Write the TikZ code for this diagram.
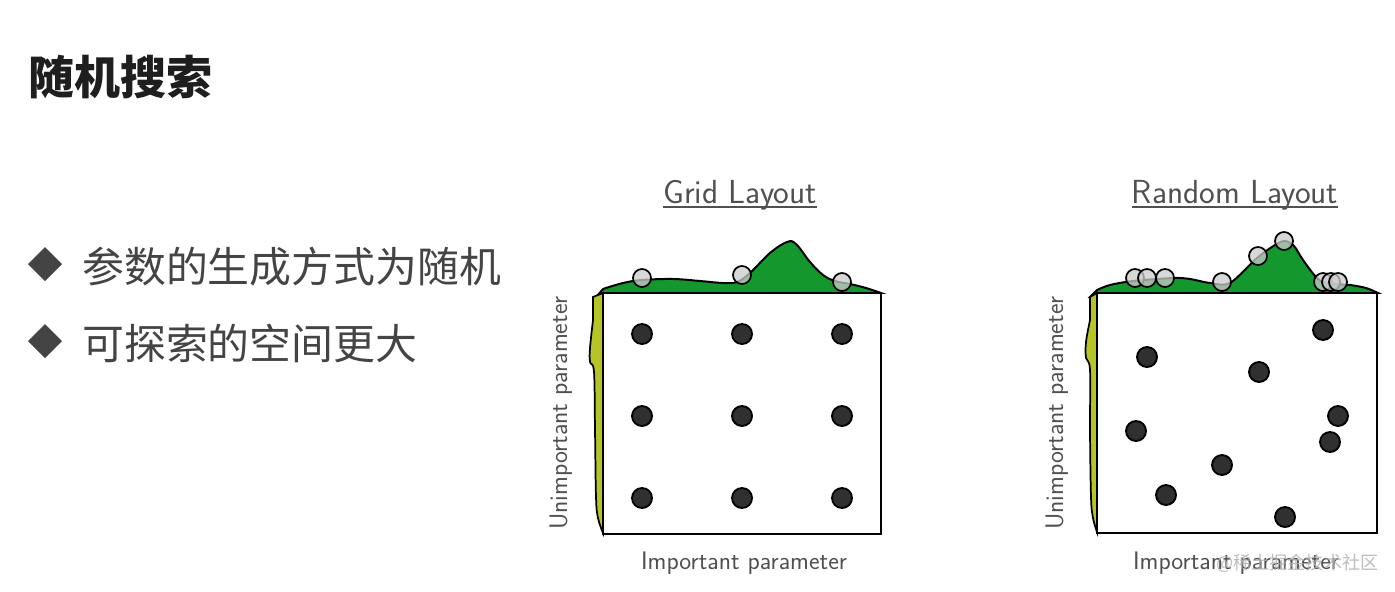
\documentclass[tikz,border=0pt]{standalone}
\usepackage{fontspec}
\usetikzlibrary{calc}
\newfontfamily\cjk{Noto Sans CJK SC}
\definecolor{grn}{RGB}{20,152,45}
\definecolor{ylw}{RGB}{182,196,40}
\definecolor{dotc}{RGB}{48,48,48}
\definecolor{lbl}{RGB}{80,80,80}
\definecolor{bul}{RGB}{68,68,68}
\definecolor{ttl}{RGB}{30,30,30}
\begin{document}
\begin{tikzpicture}[x=0.75pt,y=-0.75pt,
  dot/.style={circle,fill=dotc,draw=black,line width=1.4pt,minimum size=15pt,inner sep=0pt},
  probe/.style={circle,fill=gray!40,fill opacity=0.75,draw=black,line width=1.3pt,minimum size=13.5pt,inner sep=0pt},
  boxframe/.style={draw=black,fill=white,line width=1.9pt},
  hill/.style={fill=grn,draw=black,line width=1.5pt},
  strip/.style={fill=ylw,draw=black,line width=1.3pt},
  axlabel/.style={font=\sffamily\fontsize{19}{22}\selectfont,text=lbl,inner sep=0pt},
  plottitle/.style={font=\sffamily\fontsize{25}{28}\selectfont,text=lbl,inner sep=0pt},
  bullettext/.style={font=\cjk\fontsize{31.4}{36}\selectfont,text=bul,inner sep=0pt,anchor=west},
  diam/.style={fill=bul}
]
\useasboundingbox[fill=white] (0,0) rectangle (1395,592);

% title and bullets
\node[font=\cjk\bfseries\fontsize{34.5}{40}\selectfont,text=ttl,inner sep=0pt,anchor=west] (title) at (28,77) {随机搜索};
\fill[diam] (45,247) -- (62,264) -- (45,281) -- (28,264) -- cycle;
\node[bullettext] (b1) at (82,267) {参数的生成方式为随机};
\fill[diam] (45,324) -- (62,341) -- (45,358) -- (28,341) -- cycle;
\node[bullettext] (b2) at (82,343) {可探索的空间更大};

% ---------- Grid layout ----------
\node[plottitle,anchor=base] (gt) at (740,203) {Grid Layout};
\draw[lbl,line width=1.3pt] ($(gt.base west)+(0,4)$) -- ($(gt.base east)+(0,4)$);
\path[hill] (597,296) -- plot[smooth,tension=0.6] coordinates {(603,289) (623,283) (642,280) (673,279) (700,281) (723,283) (737,282) (750,273) (770,253) (787,242) (796,244) (810,262) (823,275) (835,281) (850,284) (866,288) (881,293)} -- cycle;
\path[strip] (603,293) -- (593,297) -- plot[smooth,tension=0.6] coordinates {(593,320) (590,348) (590,362) (594,372) (595,430) (596,497) (598,518) (603,533)} -- cycle;
\path[boxframe] (603,293) rectangle (881,534);
\foreach \x/\y/\n in {642/278/a,742/275/b,842/282/c}
  \node[probe] (gp\n) at (\x,\y) {};
\foreach \x/\i in {642/1,742/2,842/3}
  \foreach \y/\j in {334/1,416/2,498/3}
    \node[dot] (g\i\j) at (\x,\y) {};
\node[axlabel,anchor=base] (gx) at (744,569) {Important parameter};
\node[axlabel,anchor=base,rotate=90] (gy) at (567,413) {Unimportant parameter};

% ---------- Random layout ----------
\node[plottitle,anchor=base] (rt) at (1235,203) {Random Layout};
\draw[lbl,line width=1.3pt] ($(rt.base west)+(0,4)$) -- ($(rt.base east)+(0,4)$);
\path[hill] (1090,297) -- plot[smooth,tension=0.5] coordinates {(1097,290) (1110,285) (1133,281) (1173,278) (1190,279) (1210,283) (1230,283) (1257,258) (1275,245) (1285,241) (1294,246) (1303,260) (1316,277) (1326,283) (1350,285) (1366,288) (1378,293)} -- cycle;
\path[strip] (1097,293) -- (1090,297) -- plot[smooth,tension=0.6] coordinates {(1090,320) (1086,342) (1086,358) (1090,370) (1090,430) (1091,497) (1093,518) (1097,532)} -- cycle;
\path[boxframe] (1097,293) rectangle (1377,533);
\foreach \x/\y/\n in {1135/278/a,1147/278/b,1165/278/c,1222/282/d,1258/256/e,1284/241/f,1323/282/g,1331/282/h,1338/282/i}
  \node[probe] (rp\n) at (\x,\y) {};
\foreach \x/\y/\n in {1147/357/a,1323/330/b,1259/372/c,1338/416/d,1136/431/e,1330/442/f,1222/465/g,1166/495/h,1285/517/i}
  \node[dot] (rd\n) at (\x,\y) {};
\node[axlabel,anchor=base] (rx) at (1236,569) {Important parameter};
\node[axlabel,anchor=base,rotate=90] (ry) at (1063,413) {Unimportant parameter};

% watermark
\node[font=\cjk\fontsize{13.6}{16}\selectfont,text=gray!60,opacity=0.85,inner sep=0pt,anchor=west] (wm) at (1216,563) {@稀土掘金技术社区};
\end{tikzpicture}
\end{document}
